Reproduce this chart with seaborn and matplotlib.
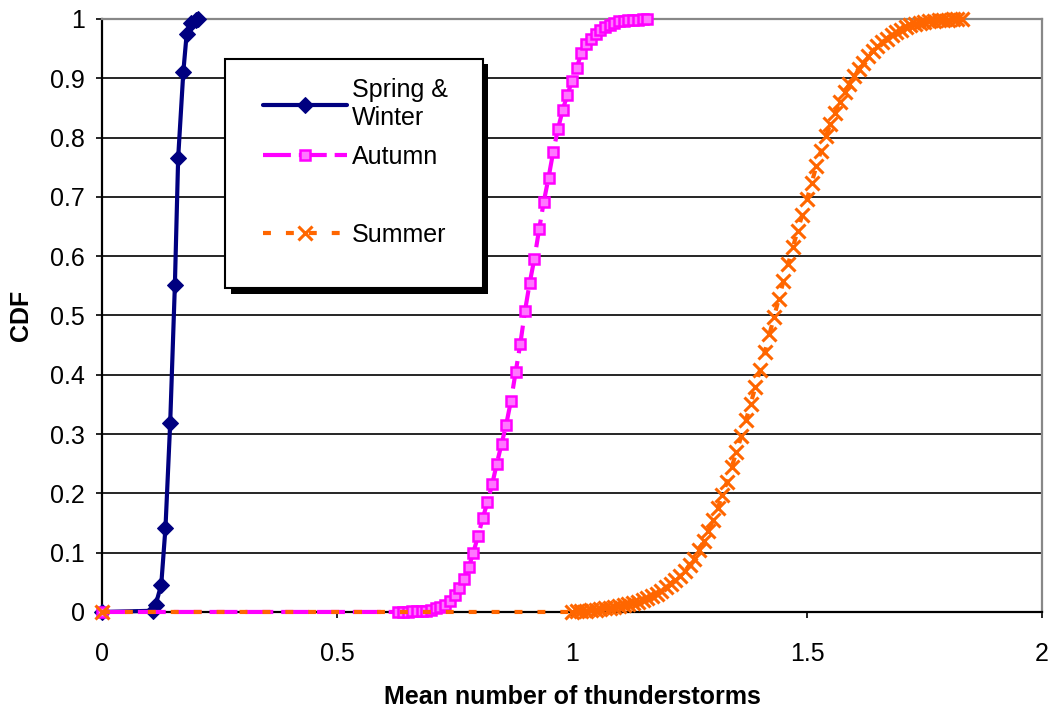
import matplotlib
matplotlib.use("Agg")
import matplotlib.pyplot as plt
from matplotlib.patches import Rectangle
from matplotlib.lines import Line2D
import seaborn as sns

# ---------------- data ----------------
spring_x = [0.0, 0.108, 0.114, 0.126, 0.135, 0.145, 0.155, 0.162, 0.173, 0.180, 0.190, 0.200, 0.205]
spring_cdf = [0.0, 0.002, 0.012, 0.046, 0.142, 0.318, 0.551, 0.766, 0.911, 0.974, 0.993, 0.999, 1.0]

autumn_x = [0.0, 0.63, 0.64, 0.65, 0.66, 0.67, 0.68, 0.69, 0.70, 0.71, 0.72, 0.73, 0.74,
            0.75, 0.76, 0.77, 0.78, 0.79, 0.80, 0.81, 0.82, 0.83, 0.84, 0.85, 0.86,
            0.87, 0.88, 0.89, 0.90, 0.91, 0.92, 0.93, 0.94, 0.95, 0.96, 0.97, 0.98,
            0.99, 1.00, 1.01, 1.02, 1.03, 1.04, 1.05, 1.06, 1.07, 1.08, 1.09, 1.10,
            1.11, 1.12, 1.13, 1.14, 1.15, 1.16]
autumn_cdf = [0.0, 0.000, 0.000, 0.000, 0.001, 0.001, 0.002, 0.002, 0.004, 0.006, 0.008, 0.012, 0.019,
              0.028, 0.040, 0.055, 0.075, 0.100, 0.128, 0.158, 0.185, 0.215, 0.250, 0.283, 0.316,
              0.356, 0.404, 0.452, 0.508, 0.555, 0.596, 0.645, 0.692, 0.732, 0.776, 0.814, 0.846,
              0.872, 0.895, 0.918, 0.942, 0.958, 0.967, 0.974, 0.981, 0.986, 0.990, 0.993, 0.996,
              0.997, 0.998, 0.999, 0.999, 1.000, 1.000]

summer_x = [0.0, 1.00, 1.01, 1.02, 1.03, 1.04, 1.05, 1.06, 1.07, 1.08, 1.09, 1.10, 1.11, 1.12,
            1.13, 1.14, 1.15, 1.16, 1.17, 1.18, 1.19, 1.20, 1.21, 1.22, 1.23, 1.24, 1.25,
            1.26, 1.27, 1.28, 1.29, 1.30, 1.31, 1.32, 1.33, 1.34, 1.35, 1.36, 1.37, 1.38,
            1.39, 1.40, 1.41, 1.42, 1.43, 1.44, 1.45, 1.46, 1.47, 1.48, 1.49, 1.50, 1.51,
            1.52, 1.53, 1.54, 1.55, 1.56, 1.57, 1.58, 1.59, 1.60, 1.61, 1.62, 1.63, 1.64,
            1.65, 1.66, 1.67, 1.68, 1.69, 1.70, 1.71, 1.72, 1.73, 1.74, 1.75, 1.76, 1.77,
            1.78, 1.79, 1.80, 1.81, 1.82, 1.83]
summer_cdf = [0.0, 0.000, 0.001, 0.001, 0.002, 0.003, 0.004, 0.005, 0.006, 0.007, 0.008, 0.010, 0.011, 0.013,
              0.015, 0.017, 0.020, 0.023, 0.027, 0.031, 0.036, 0.042, 0.048, 0.054, 0.060, 0.069, 0.079,
              0.090, 0.104, 0.119, 0.136, 0.155, 0.175, 0.197, 0.220, 0.245, 0.270, 0.296, 0.323, 0.351,
              0.379, 0.408, 0.438, 0.468, 0.498, 0.528, 0.558, 0.587, 0.615, 0.643, 0.670, 0.696, 0.724,
              0.752, 0.778, 0.802, 0.823, 0.842, 0.860, 0.876, 0.890, 0.903, 0.915, 0.926, 0.937, 0.946,
              0.954, 0.961, 0.967, 0.973, 0.978, 0.982, 0.986, 0.989, 0.991, 0.993, 0.995, 0.996, 0.997,
              0.998, 0.999, 0.999, 1.000, 1.000, 1.000]

series_labels = ["Spring &\nWinter", "Autumn", "Summer"]
x_ticks = [0, 0.5, 1, 1.5, 2]
x_tick_labels = ["0", "0.5", "1", "1.5", "2"]
y_ticks = [0, 0.1, 0.2, 0.3, 0.4, 0.5, 0.6, 0.7, 0.8, 0.9, 1]
y_tick_labels = ["0", "0.1", "0.2", "0.3", "0.4", "0.5", "0.6", "0.7", "0.8", "0.9", "1"]
x_label = "Mean number of thunderstorms"
y_label = "CDF"

# ---------------- style ----------------
sns.set_theme(style="white")
plt.rcParams['font.family'] = ['Liberation Sans', 'DejaVu Sans']
plt.rcParams.update({"text.color": "black", "axes.labelcolor": "black",
                     "xtick.color": "black", "ytick.color": "black"})

FS = 18
fig = plt.figure(figsize=(10.54, 7.13), dpi=100)
ax = fig.add_axes([0.0968, 0.1417, 0.8918, 0.8317])

sns.lineplot(x=spring_x, y=spring_cdf, ax=ax, sort=False, estimator=None,
             color="#000080", linewidth=3.0, marker="D", markersize=8.5,
             markerfacecolor="#000080", markeredgecolor="#000080",
             label=series_labels[0], clip_on=False, zorder=3)
sns.lineplot(x=autumn_x, y=autumn_cdf, ax=ax, sort=False, estimator=None,
             color="#FF00FF", linewidth=3.0, linestyle=(0, (6.7, 1.9)), marker="s", markersize=7.5,
             markerfacecolor="#FF77FF", markeredgecolor="#FF00FF", markeredgewidth=1.8,
             label=series_labels[1], clip_on=False, zorder=4)
sns.lineplot(x=summer_x, y=summer_cdf, ax=ax, sort=False, estimator=None,
             color="#FF6600", linewidth=3.0, linestyle=(0, (1.9, 3.6)), marker="x", markersize=10,
             markeredgecolor="#FF6600", markeredgewidth=2.2,
             label=series_labels[2], clip_on=False, zorder=5)

ax.set_xlim(0, 2)
ax.set_ylim(0, 1)
ax.set_xticks(x_ticks)
ax.set_xticklabels(x_tick_labels, fontsize=FS)
ax.set_yticks(y_ticks)
ax.set_yticklabels(y_tick_labels, fontsize=FS)
ax.tick_params(axis="both", direction="out", length=4.5, width=1.2, color="black",
               bottom=True, left=True)
ax.tick_params(axis="x", pad=17)
ax.tick_params(axis="y", pad=8)

ax.yaxis.grid(True, color="black", linewidth=1.2)
ax.xaxis.grid(False)
ax.set_axisbelow(True)

for side in ["left", "bottom"]:
    ax.spines[side].set_color("black")
    ax.spines[side].set_linewidth(1.6)
for side in ["top", "right"]:
    ax.spines[side].set_visible(True)
    ax.spines[side].set_color("#888888")
    ax.spines[side].set_linewidth(1.6)

ax.set_xlabel(x_label, fontsize=FS, fontweight="bold", labelpad=14)
ax.set_ylabel(y_label, fontsize=FS, fontweight="bold", labelpad=12)

# legend box (frame + black drop shadow) drawn in axes coordinates
box_x0, box_y0, box_w, box_h = 0.131, 0.546, 0.274, 0.3865
ax.add_patch(Rectangle((box_x0 + 0.006, box_y0 - 0.009), box_w, box_h, transform=ax.transAxes,
                       facecolor="black", edgecolor="black", lw=0, zorder=6, clip_on=False))
ax.add_patch(Rectangle((box_x0, box_y0), box_w, box_h, transform=ax.transAxes,
                       facecolor="white", edgecolor="black", lw=1.5, zorder=6.1, clip_on=False))

handles, labels = ax.get_legend_handles_labels()
spacer = Line2D([], [], color="none", marker="None")
leg_handles = [handles[0], handles[1], spacer, handles[2]]
leg_labels = [labels[0], labels[1], " ", labels[2]]
leg = ax.legend(leg_handles, leg_labels, loc="upper left", bbox_to_anchor=(0.1713, 0.9),
                borderaxespad=0, borderpad=0, frameon=False, fontsize=FS,
                handlelength=3.36, handletextpad=0.2, labelspacing=0.6, numpoints=1)
leg.set_zorder(7)

fig.savefig("out.png", dpi=100)
